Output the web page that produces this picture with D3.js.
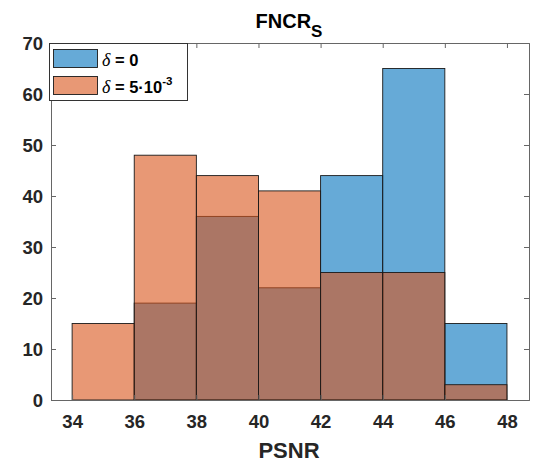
<!DOCTYPE html>
<html>
<head>
<meta charset="utf-8">
<script src="https://cdn.jsdelivr.net/npm/d3@7/dist/d3.min.js"></script>
<style>
body{margin:0;background:#fff;}
svg text{font-family:Arial,"Liberation Sans",Helvetica,sans-serif;}
</style>
</head>
<body>
<svg id="chart" width="537" height="464"></svg>
<script>
const binEdges = [34, 36, 38, 40, 42, 44, 46, 48];
const seriesNames = ["δ = 0", "δ = 5·10-3"];
const blueCounts = [0, 19, 36, 22, 44, 65, 15];
const orangeCounts = [15, 48, 44, 41, 25, 25, 3];
const xTicks = [34, 36, 38, 40, 42, 44, 46, 48];
const yTicks = [0, 10, 20, 30, 40, 50, 60, 70];

const svg = d3.select("#chart");
const L = 51, R = 529, T = 43, B = 400;
const x = d3.scaleLinear().domain([33.32, 48.71]).range([L, R]);
const y = d3.scaleLinear().domain([0, 70]).range([B, T]);
const axisColor = "#262626";

function drawBars(counts, color) {
  svg.append("g").selectAll("rect").data(counts).join("rect")
    .attr("x", (d, i) => x(binEdges[i]))
    .attr("width", (d, i) => x(binEdges[i + 1]) - x(binEdges[i]))
    .attr("y", d => y(d))
    .attr("height", d => y(0) - y(d))
    .attr("fill", color).attr("fill-opacity", 0.6)
    .attr("stroke", "#1a1a1a").attr("stroke-width", 0.9)
    .style("display", d => d > 0 ? null : "none");
}
drawBars(blueCounts, "#0072BD");
drawBars(orangeCounts, "#D95319");

// axes
const gx = svg.append("g").attr("transform", `translate(0,${B})`)
  .call(d3.axisBottom(x).tickValues(xTicks).tickSize(-5).tickPadding(15).tickFormat(d3.format("d")));
const gxt = svg.append("g").attr("transform", `translate(0,${T})`)
  .call(d3.axisTop(x).tickValues(xTicks).tickSize(-5).tickFormat(""));
const gy = svg.append("g").attr("transform", `translate(${L},0)`)
  .call(d3.axisLeft(y).tickValues(yTicks).tickSize(-5).tickPadding(8).tickFormat(d3.format("d")));
const gyr = svg.append("g").attr("transform", `translate(${R},0)`)
  .call(d3.axisRight(y).tickValues(yTicks).tickSize(-5).tickFormat(""));
[gx, gxt, gy, gyr].forEach(g => {
  g.selectAll("path.domain").attr("stroke", "#666").attr("stroke-width", 1);
  g.selectAll(".tick line").attr("stroke", "#666").attr("stroke-width", 1);
  g.selectAll(".tick text").attr("fill", axisColor).attr("font-size", 18.5).attr("font-weight", "bold")
    .style("font-family", "Arial, 'Liberation Sans', sans-serif");
});
gx.selectAll(".tick text").attr("dy", "0.71em");
gy.selectAll(".tick text").attr("dy", "0.35em");

// title
const title = svg.append("text").attr("x", (L + R) / 2 - 1).attr("y", 28)
  .attr("text-anchor", "middle").attr("font-size", 20).attr("font-weight", "bold").attr("fill", "#000");
title.append("tspan").text("FNCR");
title.append("tspan").attr("dy", 9).attr("font-size", 17).text("S");

// x label
svg.append("text").attr("x", (L + R) / 2 - 1).attr("y", 458)
  .attr("text-anchor", "middle").attr("font-size", 22).attr("font-weight", "bold")
  .attr("fill", axisColor).text("PSNR");

// legend
const lg = svg.append("g");
lg.append("rect").attr("x", 49.5).attr("y", 43.5).attr("width", 138).attr("height", 57)
  .attr("fill", "#fff").attr("stroke", "#333").attr("stroke-width", 1);
const legColors = ["#0072BD", "#D95319"];
seriesNames.forEach((name, i) => {
  const yy = 49.5 + i * 27;
  lg.append("rect").attr("x", 53.5).attr("y", yy).attr("width", 44).attr("height", 18)
    .attr("fill", legColors[i]).attr("fill-opacity", 0.6).attr("stroke", "#1a1a1a").attr("stroke-width", 0.9);
  const t = lg.append("text").attr("x", 102).attr("y", yy + 16).attr("font-size", 16.5).attr("fill", "#000");
  t.append("tspan").attr("font-style", "italic").attr("font-family", "'Liberation Serif', 'DejaVu Serif', serif").attr("font-size", 18).text("δ");
  if (i === 0) {
    t.append("tspan").attr("font-weight", "bold").text(" = 0");
  } else {
    t.append("tspan").attr("font-weight", "bold").text(" = 5·10");
    t.append("tspan").attr("font-weight", "bold").attr("font-size", 11.5).attr("dy", -8).text("-3");
  }
});
</script>
</body>
</html>
